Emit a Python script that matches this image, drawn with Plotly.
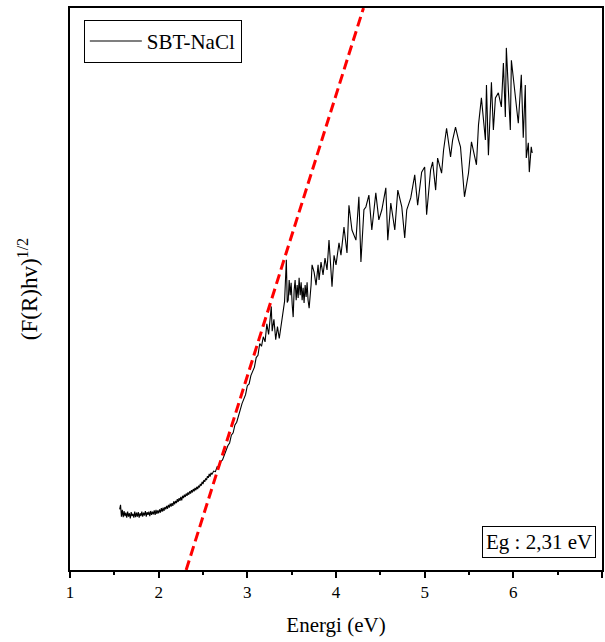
import plotly.graph_objects as go

# energy (eV) and (F(R)hv)^1/2 (arb. units)
energy = [
    1.56, 1.57, 1.58, 1.59, 1.60, 1.61, 1.62, 1.63, 1.64, 1.65, 1.66, 1.67, 1.68, 1.69,
    1.70, 1.71, 1.72, 1.73, 1.74, 1.75, 1.76, 1.77, 1.78, 1.79, 1.80, 1.81, 1.82, 1.83,
    1.84, 1.85, 1.86, 1.87, 1.88, 1.89, 1.90, 1.91, 1.92, 1.93, 1.94, 1.95, 1.96, 1.97,
    1.98, 1.99, 2.00, 2.01, 2.02, 2.03, 2.04, 2.05, 2.06, 2.07, 2.08, 2.09, 2.10, 2.11,
    2.12, 2.13, 2.14, 2.15, 2.16, 2.17, 2.18, 2.19, 2.20, 2.21, 2.22, 2.23, 2.24, 2.25,
    2.26, 2.27, 2.28, 2.29, 2.30, 2.31, 2.32, 2.33, 2.34, 2.35, 2.36, 2.37, 2.38, 2.39,
    2.40, 2.41, 2.42, 2.43, 2.44, 2.45, 2.46, 2.47, 2.48, 2.49, 2.50, 2.51, 2.52, 2.53,
    2.54, 2.55, 2.56, 2.57, 2.58, 2.59, 2.60,
    2.62, 2.64, 2.66, 2.68, 2.70, 2.72, 2.74, 2.76, 2.78, 2.80, 2.82, 2.84, 2.86, 2.88,
    2.90, 2.92, 2.94, 2.96, 2.98, 3.00, 3.02, 3.04, 3.06, 3.08, 3.10, 3.12, 3.14, 3.16,
    3.18, 3.20, 3.22, 3.24, 3.26, 3.27, 3.28, 3.30, 3.32, 3.34, 3.36, 3.38, 3.40, 3.42,
    3.44, 3.45, 3.461, 3.472, 3.483, 3.494, 3.506, 3.517, 3.528, 3.539, 3.551, 3.562,
    3.573, 3.584, 3.596, 3.607, 3.618, 3.629, 3.640, 3.652, 3.663, 3.674, 3.685, 3.697,
    3.719, 3.730, 3.753, 3.775, 3.798, 3.809, 3.831, 3.854, 3.876, 3.899, 3.921, 3.955,
    3.978, 4.000, 4.034, 4.056, 4.090, 4.124, 4.146, 4.180, 4.225, 4.258, 4.281, 4.315,
    4.337, 4.371, 4.404, 4.449, 4.483, 4.517, 4.562, 4.584, 4.618, 4.663, 4.697, 4.742,
    4.775, 4.798, 4.843, 4.888, 4.921, 4.966, 5.000, 5.022, 5.067, 5.090, 5.124, 5.146,
    5.191, 5.213, 5.247, 5.292, 5.315, 5.348, 5.382, 5.404, 5.449, 5.494, 5.528, 5.551,
    5.584, 5.607, 5.640, 5.685, 5.697, 5.719, 5.753, 5.775, 5.798, 5.831, 5.865, 5.888,
    5.910, 5.921, 5.966, 5.978, 6.022, 6.056, 6.090, 6.112, 6.135, 6.146, 6.169, 6.180,
    6.202, 6.213,
]
signal = [
    10.8, 11.6, 9.5, 10.7, 9.4, 10.5, 9.6, 10.2, 9.3, 10.4, 9.5, 10.1, 9.2, 10.3,
    9.6, 10.0, 9.3, 10.4, 9.4, 10.2, 9.5, 10.3, 9.3, 10.1, 9.6, 10.4, 9.5, 10.2,
    9.7, 10.5, 9.5, 10.3, 9.8, 10.4, 9.6, 10.5, 9.8, 10.4, 9.9, 10.6, 9.8, 10.7,
    10.0, 10.6, 10.1, 10.8, 10.2, 11.0, 10.4, 11.1, 10.5, 11.2, 10.8, 11.4, 10.9, 11.6,
    11.1, 11.8, 11.3, 11.9, 11.4, 12.2, 11.7, 12.3, 11.9, 12.6, 12.1, 12.8, 12.3, 13.0,
    12.4, 13.2, 12.8, 13.4, 13.0, 13.6, 13.2, 13.8, 13.4, 14.0, 13.6, 14.2, 13.8, 14.4,
    14.0, 14.6, 14.2, 14.8, 14.4, 15.0, 14.7, 15.3, 15.0, 15.7, 15.3, 16.0, 15.7, 16.3,
    16.0, 16.7, 16.4, 17.1, 16.6, 17.3, 17.0,
    17.6, 17.5, 18.4, 18.3, 19.3, 19.6, 20.5, 21.0, 22.1, 22.6, 24.0, 24.4, 25.8, 26.3,
    27.6, 28.5, 29.6, 30.5, 31.2, 32.8, 33.1, 34.6, 35.4, 36.1, 37.8, 38.2, 40.3, 39.8,
    41.5, 40.6, 43.8, 41.9, 45.2, 46.9, 42.5, 44.6, 41.0, 43.3, 41.2, 43.5, 45.0, 47.8,
    55.2, 47.6, 48.0, 51.6, 48.9, 51.1, 47.2, 45.0, 49.8, 51.6, 48.0, 50.7,
    48.4, 52.0, 48.9, 51.2, 48.0, 50.2, 47.5, 50.7, 48.6, 51.2, 48.0, 46.6,
    50.7, 54.3, 53.0, 50.7, 54.3, 51.6, 54.8, 52.5, 55.5, 53.4, 58.7, 50.4,
    56.0, 54.3, 58.2, 56.0, 61.0, 56.4, 64.9, 60.5, 58.7, 66.4, 54.8, 64.1,
    64.6, 66.7, 60.5, 67.1, 62.3, 64.1, 68.0, 58.7, 65.3, 60.5, 67.6, 64.6,
    59.1, 64.1, 66.2, 70.3, 64.9, 70.8, 71.7, 63.2, 71.2, 72.6, 67.6, 73.3,
    70.6, 74.7, 78.6, 73.5, 76.5, 78.8, 76.5, 75.3, 66.4, 70.6, 76.2, 74.4,
    72.1, 79.2, 84.0, 76.5, 86.3, 73.8, 86.8, 78.3, 84.0, 84.9, 82.4, 90.2,
    80.6, 92.9, 78.3, 90.7, 84.0, 79.5, 88.1, 76.9, 86.3, 73.3, 76.0, 70.8,
    75.3, 74.2,
]

# linear extrapolation giving the band gap
fit_x = [2.31, 4.31]
fit_y = [0, 100]
eg_label = "Eg : 2,31 eV"

font = "Liberation Serif, Times New Roman, serif"

fig = go.Figure()
fig.add_trace(go.Scatter(x=energy, y=signal, mode="lines", name="SBT-NaCl",
                         line=dict(color="black", width=1.1)))
fig.add_trace(go.Scatter(x=fit_x, y=fit_y, mode="lines", showlegend=False,
                         line=dict(color="#ff0000", width=3, dash="10px,5px")))

fig.add_annotation(text=eg_label, xref="paper", yref="paper", x=0.989, y=0.021,
                   xanchor="right", yanchor="bottom", showarrow=False,
                   font=dict(size=21, color="black", family=font),
                   bordercolor="black", borderwidth=1, borderpad=3, bgcolor="white")

fig.update_layout(
    width=605, height=642,
    margin=dict(l=70, r=1, t=8, b=72),
    plot_bgcolor="white", paper_bgcolor="white",
    font=dict(family=font, color="black", size=17),
    legend=dict(x=0.026, y=0.979, xanchor="left", yanchor="top",
                bordercolor="black", borderwidth=1, bgcolor="white",
                font=dict(size=21), itemwidth=52),
)
fig.update_xaxes(range=[1, 7], tickvals=[1, 2, 3, 4, 5, 6, 7], ticks="outside",
                 ticklen=6, tickwidth=1.5, tickcolor="black",
                 minor=dict(tickvals=[1.5, 2.5, 3.5, 4.5, 5.5, 6.5], ticks="outside",
                            ticklen=3, tickwidth=1.5, tickcolor="black"),
                 showline=True, linecolor="black", linewidth=1.5, mirror=True,
                 showgrid=False, zeroline=False,
                 title=dict(text="Energi (eV)", font=dict(size=21), standoff=16))
fig.update_yaxes(range=[0, 100], showticklabels=False, ticks="",
                 showline=True, linecolor="black", linewidth=1.5, mirror=True,
                 showgrid=False, zeroline=False,
                 title=dict(text="(F(R)hv)<sup>1/2</sup>", font=dict(size=23), standoff=24))

fig.write_html("out.html", config={"displayModeBar": False},
               post_script="document.body.style.margin='0';")
